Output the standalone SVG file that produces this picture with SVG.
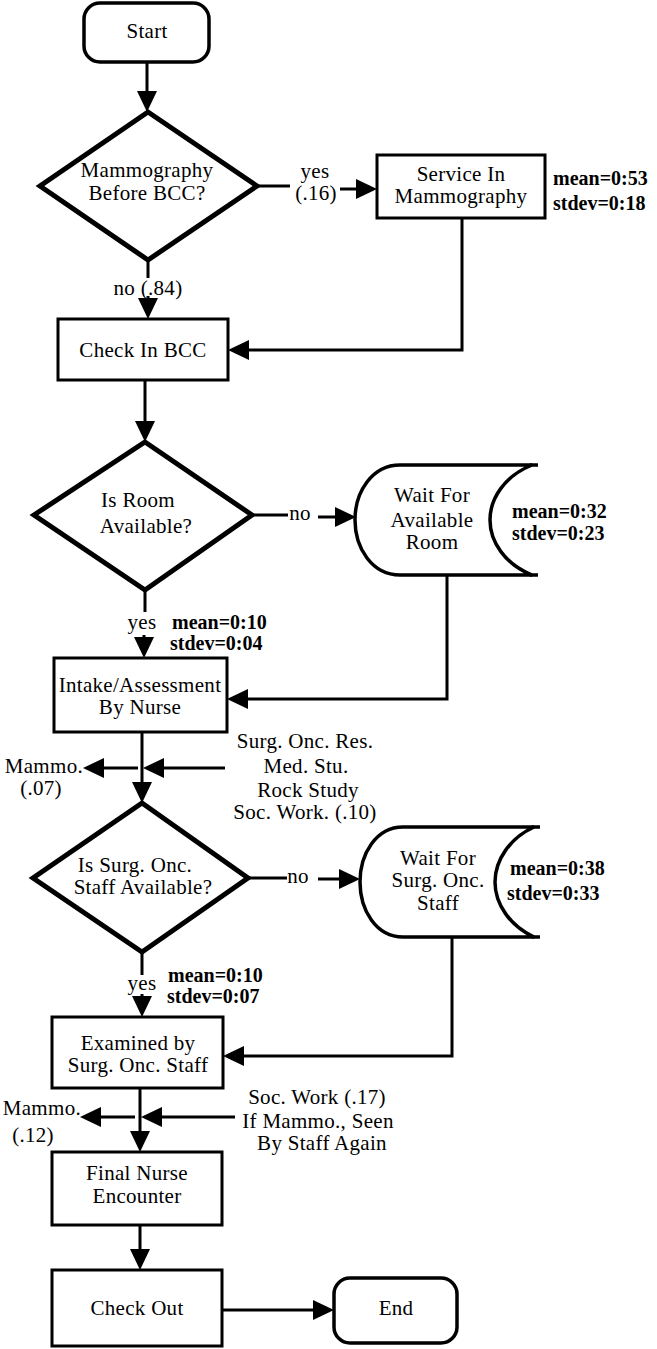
<svg xmlns="http://www.w3.org/2000/svg" width="657" height="1349" viewBox="0 0 657 1349">
<style>
  .bx{fill:#fff;stroke:#000;stroke-width:3}
  .term{fill:#fff;stroke:#000;stroke-width:3.5}
  .dia{fill:#fff;stroke:#000;stroke-width:5;stroke-linejoin:miter}
  .wt{fill:#fff;stroke:#000;stroke-width:3.5}
  .t{font-family:"Liberation Serif","Times New Roman",serif;font-size:21px;letter-spacing:0.3px;text-anchor:middle;fill:#000}
  .s{font-family:"Liberation Serif","Times New Roman",serif;font-size:20px;font-weight:bold;fill:#000}
  .e{text-anchor:end}
  #connectors path{fill:none;stroke:#000;stroke-width:3;marker-end:url(#ah)}
  #connectors path.p{marker-end:none}
</style>
<defs>
  <marker id="ah" viewBox="0 0 21 20" refX="0" refY="10" markerWidth="21" markerHeight="20" markerUnits="userSpaceOnUse" orient="auto">
    <path d="M0,0 L21,10 L0,20 Z" fill="#000"/>
  </marker>
</defs>
<rect width="657" height="1349" fill="#fff"/>

<g id="connectors">
  <path d="M147,62 V91"/>
  <path class="p" d="M148,260 V278"/>
  <path d="M148,296 V298"/>
  <path class="p" d="M257,186 H290"/>
  <path d="M340,189 H356"/>
  <path d="M462,218 V350 H249"/>
  <path d="M145,380 V421"/>
  <path class="p" d="M252,515 H288"/>
  <path d="M318,517 H335"/>
  <path d="M447,575 V699 H248"/>
  <path class="p" d="M145,590 V612"/>
  <path d="M144,635 V637"/>
  <path d="M142,732 V782"/>
  <path d="M138,768 H104"/>
  <path d="M225,768 H164"/>
  <path class="p" d="M248,878 H287"/>
  <path d="M318,879 H339"/>
  <path d="M452,937 V1056 H244"/>
  <path class="p" d="M142,952 V975"/>
  <path d="M142,994 V996"/>
  <path d="M140,1088 V1131"/>
  <path d="M135,1117 H101"/>
  <path d="M235,1117 H162"/>
  <path d="M140,1225 V1249"/>
  <path d="M222,1310 H313"/>
</g>

<g id="labels">
  <text class="t" x="148" y="295">no (.84)</text>
  <text class="t" x="315" y="178">yes</text>
  <text class="t" x="316" y="200">(.16)</text>
  <text class="t" x="300" y="520">no</text>
  <text class="t" x="142" y="629">yes</text>
  <text class="s" x="172" y="629">mean=0:10</text>
  <text class="s" x="170" y="650">stdev=0:04</text>
  <text class="t e" x="83" y="773">Mammo.</text>
  <text class="t" x="41" y="795">(.07)</text>
  <text class="t" x="305" y="748">Surg. Onc. Res.</text>
  <text class="t" x="306" y="773">Med. Stu.</text>
  <text class="t" x="308" y="797">Rock Study</text>
  <text class="t" x="305" y="819">Soc. Work. (.10)</text>
  <text class="t" x="298" y="883">no</text>
  <text class="t" x="142" y="990">yes</text>
  <text class="s" x="168" y="982">mean=0:10</text>
  <text class="s" x="167" y="1003">stdev=0:07</text>
  <text class="t e" x="81" y="1115">Mammo.</text>
  <text class="t" x="33" y="1142">(.12)</text>
  <text class="t" x="317" y="1104">Soc. Work (.17)</text>
  <text class="t" x="318" y="1128">If Mammo., Seen</text>
  <text class="t" x="322" y="1150">By Staff Again</text>
</g>

<g id="start">
  <rect class="term" x="84" y="3" width="125" height="59" rx="16"/>
  <text class="t" x="147" y="38">Start</text>
</g>

<g id="d-mammo">
  <polygon class="dia" points="148,112 257,186 148,260 40,186"/>
  <text class="t" x="147" y="177">Mammography</text>
  <text class="t" x="147" y="200">Before BCC?</text>
</g>

<g id="service-mammo">
  <rect class="bx" x="377" y="155" width="168" height="63"/>
  <text class="t" x="461" y="181">Service In</text>
  <text class="t" x="461" y="203">Mammography</text>
  <text class="s" x="553" y="185">mean=0:53</text>
  <text class="s" x="553" y="210">stdev=0:18</text>
</g>

<g id="check-in">
  <rect class="bx" x="58" y="319" width="170" height="61"/>
  <text class="t" x="143" y="357">Check In BCC</text>
</g>

<g id="d-room">
  <polygon class="dia" points="145,442 252,515 145,590 34,515"/>
  <text class="t" x="138" y="507">Is Room</text>
  <text class="t" x="146" y="533">Available?</text>
</g>

<g id="wait-room">
  <path class="wt" d="M400,465 L532,465 C505,476 490,498 490,520 C490,542 505,564 532,575 L400,575 C372,575 355,548 355,520 C355,492 372,465 400,465 Z"/>
  <path d="M530,465 H538 M530,575 H538" stroke="#000" stroke-width="3.5" fill="none"/>
  <text class="t" x="432" y="502">Wait For</text>
  <text class="t" x="432" y="527">Available</text>
  <text class="t" x="432" y="549">Room</text>
  <text class="s" x="512" y="518">mean=0:32</text>
  <text class="s" x="512" y="540">stdev=0:23</text>
</g>

<g id="intake">
  <rect class="bx" x="54" y="658" width="173" height="74"/>
  <text class="t" x="140" y="692">Intake/Assessment</text>
  <text class="t" x="140" y="714">By Nurse</text>
</g>

<g id="d-staff">
  <polygon class="dia" points="142,803 248,878 142,952 33,878"/>
  <text class="t" x="135" y="872">Is Surg. Onc.</text>
  <text class="t" x="143" y="894">Staff Available?</text>
</g>

<g id="wait-staff">
  <path class="wt" d="M403,827 L534,827 C510,838 495,860 495,882 C495,904 510,926 534,937 L403,937 C376,937 360,910 360,882 C360,854 376,827 403,827 Z"/>
  <path d="M532,827 H540 M532,937 H540" stroke="#000" stroke-width="3.5" fill="none"/>
  <text class="t" x="438" y="865">Wait For</text>
  <text class="t" x="438" y="887">Surg. Onc.</text>
  <text class="t" x="438" y="910">Staff</text>
  <text class="s" x="510" y="875">mean=0:38</text>
  <text class="s" x="507" y="900">stdev=0:33</text>
</g>

<g id="examined">
  <rect class="bx" x="52" y="1017" width="171" height="71"/>
  <text class="t" x="138" y="1050">Examined by</text>
  <text class="t" x="138" y="1072">Surg. Onc. Staff</text>
</g>

<g id="final-nurse">
  <rect class="bx" x="52" y="1152" width="170" height="73"/>
  <text class="t" x="137" y="1180">Final Nurse</text>
  <text class="t" x="137" y="1203">Encounter</text>
</g>

<g id="check-out">
  <rect class="bx" x="52" y="1270" width="170" height="76"/>
  <text class="t" x="137" y="1315">Check Out</text>
</g>

<g id="end">
  <rect class="term" x="334" y="1278" width="123" height="65" rx="16"/>
  <text class="t" x="396" y="1315">End</text>
</g>
</svg>
